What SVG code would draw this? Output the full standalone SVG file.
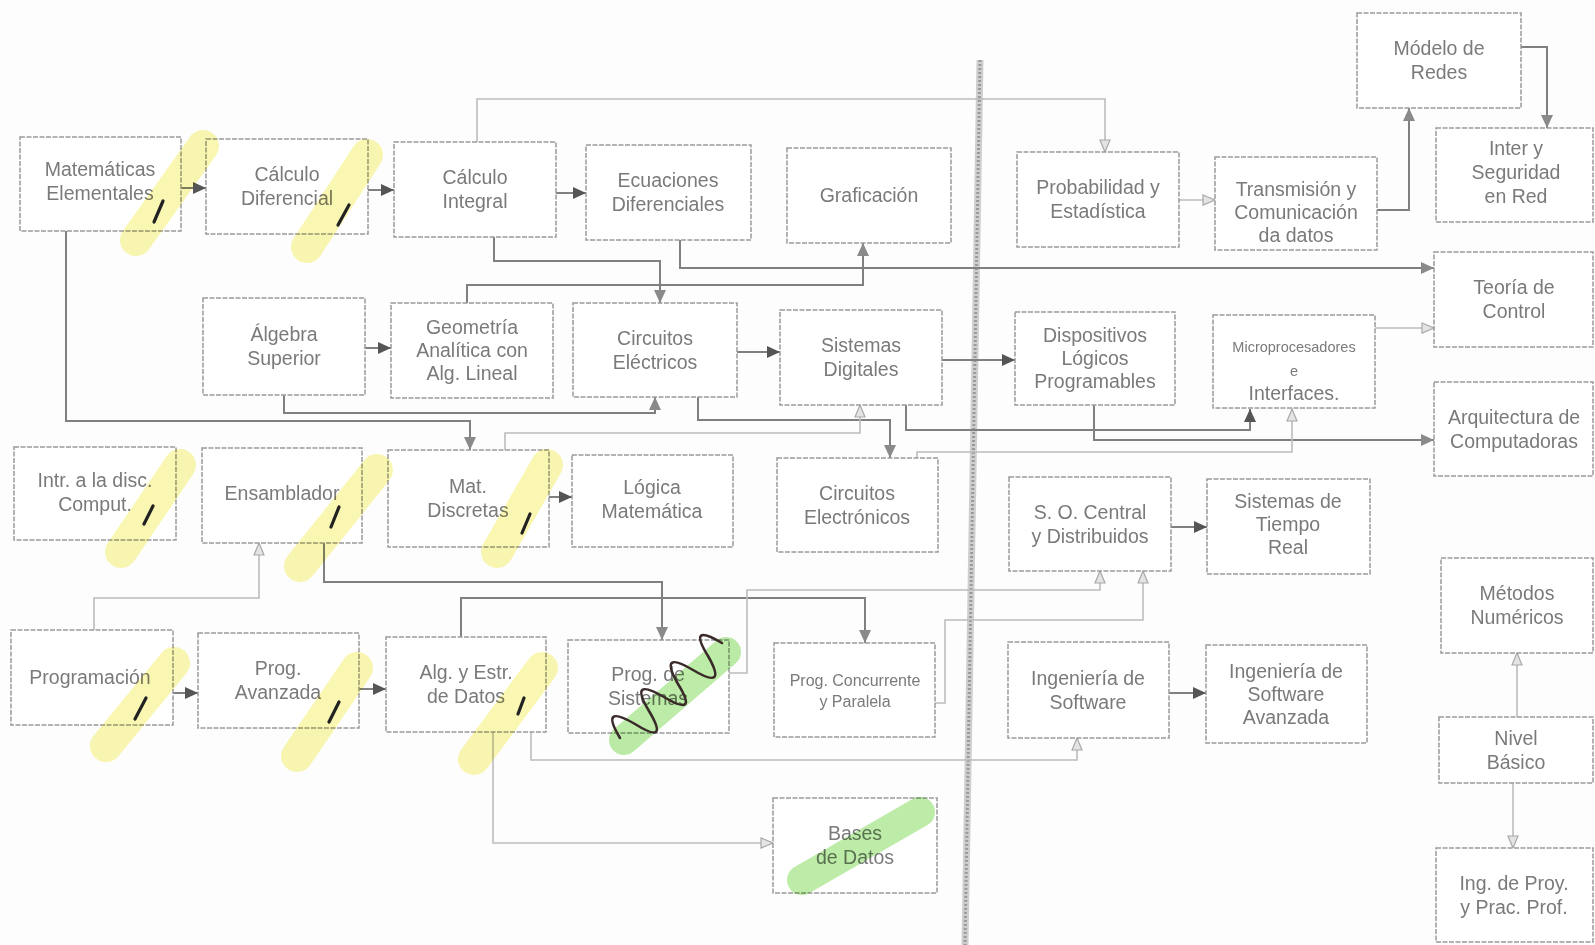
<svg xmlns="http://www.w3.org/2000/svg" width="1595" height="945" viewBox="0 0 1595 945">
<style>
.box{fill:#fff;stroke:#9a9a9a;stroke-width:1.5;stroke-dasharray:5 1.5}
.t{font-family:"Liberation Sans",Arial,sans-serif;font-size:19.5px;fill:#7a7a7a;text-anchor:middle}
.s{font-size:14.5px}
.m{font-size:16px}
.dk{fill:none;stroke:#808080;stroke-width:2}
.lt{fill:none;stroke:#bcbcbc;stroke-width:1.6}
.hy{fill:none;stroke:#f8f38a;stroke-width:32;stroke-linecap:round;opacity:.65;mix-blend-mode:multiply}
.hg{fill:none;stroke:#a6e68a;stroke-width:30;stroke-linecap:round;opacity:.75;mix-blend-mode:multiply}
.pen{fill:none;stroke:#222;stroke-width:3.2;stroke-linecap:round}
</style>
<defs>
<marker id="ad" markerUnits="userSpaceOnUse" markerWidth="14" markerHeight="12" refX="13" refY="6" orient="auto"><path d="M0,0 L13,6 L0,12 z" fill="#555"/></marker>
<marker id="am" markerUnits="userSpaceOnUse" markerWidth="14" markerHeight="12" refX="13" refY="6" orient="auto"><path d="M0,0 L13,6 L0,12 z" fill="#8a8a8a"/></marker>
<marker id="al" markerUnits="userSpaceOnUse" markerWidth="14" markerHeight="12" refX="13" refY="6" orient="auto"><path d="M1,1 L13,6 L1,11 z" fill="#e4e4e4" stroke="#a8a8a8" stroke-width="1.2"/></marker>
</defs>
<rect width="1595" height="945" fill="#fdfdfd"/>

<g id="divider">
<line x1="980" y1="60" x2="965" y2="945" stroke="#cfcfcf" stroke-width="7"/>
<line x1="980" y1="60" x2="965" y2="945" stroke="#9a9a9a" stroke-width="3" stroke-dasharray="2 2"/>
</g>

<g id="connectors">
<path class="dk" d="M181,188 H206" marker-end="url(#ad)"/>
<path class="dk" d="M368,190 H394" marker-end="url(#ad)"/>
<path class="dk" d="M556,193 H586" marker-end="url(#ad)"/>
<path class="dk" d="M365,348 H391" marker-end="url(#ad)"/>
<path class="dk" d="M737,352 H780" marker-end="url(#ad)"/>
<path class="dk" d="M942,360 H1015" marker-end="url(#ad)"/>
<path class="dk" d="M549,497 H572" marker-end="url(#ad)"/>
<path class="dk" d="M173,693 H198" marker-end="url(#ad)"/>
<path class="dk" d="M359,689 H386" marker-end="url(#ad)"/>
<path class="dk" d="M1171,527 H1207" marker-end="url(#ad)"/>
<path class="dk" d="M1169,693 H1206" marker-end="url(#ad)"/>
<path class="dk" d="M1521,47 H1547 V128" marker-end="url(#am)"/>
<path class="dk" d="M1377,210 H1409 V108" marker-end="url(#am)"/>
<path class="dk" d="M66,231 V421 H470 V450" marker-end="url(#am)"/>
<path class="dk" d="M284,395 V413 H655 V397" marker-end="url(#am)"/>
<path class="dk" d="M494,237 V261 H660 V303" marker-end="url(#am)"/>
<path class="dk" d="M467,303 V285 H863 V243" marker-end="url(#am)"/>
<path class="dk" d="M680,240 V268 H1434" marker-end="url(#am)"/>
<path class="dk" d="M906,405 V430 H1250 V409" marker-end="url(#ad)"/>
<path class="dk" d="M324,543 V582 H662 V640" marker-end="url(#am)"/>
<path class="dk" d="M461,637 V598 H865 V643" marker-end="url(#am)"/>
<path class="dk" d="M698,397 V420 H890 V458" marker-end="url(#am)"/>
<path class="dk" d="M1094,405 V440 H1434" marker-end="url(#am)"/>
<path class="lt" d="M477,142 V99 H1105 V152" marker-end="url(#al)"/>
<path class="lt" d="M1179,200 H1215" marker-end="url(#al)"/>
<path class="lt" d="M1375,328 H1434" marker-end="url(#al)"/>
<path class="lt" d="M917,458 V452 H1292 V409" marker-end="url(#al)"/>
<path class="lt" d="M505,450 V433 H860 V405" marker-end="url(#al)"/>
<path class="lt" d="M729,673 H747 V590 H1100 V571" marker-end="url(#al)"/>
<path class="lt" d="M935,703 H945 V620 H1143 V571" marker-end="url(#al)"/>
<path class="lt" d="M531,732 V760 H1077 V738" marker-end="url(#al)"/>
<path class="lt" d="M94,630 V598 H259 V543" marker-end="url(#al)"/>
<path class="lt" d="M493,732 V843 H773" marker-end="url(#al)"/>
<path class="lt" d="M1517,717 V653" marker-end="url(#al)"/>
<path class="lt" d="M1513,783 V848" marker-end="url(#al)"/>
</g>

<g id="n-me"><rect class="box" x="20" y="137" width="161" height="94"/><text class="t" x="100" y="176">Matemáticas<tspan x="100" dy="24">Elementales</tspan></text></g>
<g id="n-cd"><rect class="box" x="206" y="139" width="162" height="95"/><text class="t" x="287" y="181">Cálculo<tspan x="287" dy="24">Diferencial</tspan></text></g>
<g id="n-ci"><rect class="box" x="394" y="142" width="162" height="95"/><text class="t" x="475" y="184">Cálculo<tspan x="475" dy="24">Integral</tspan></text></g>
<g id="n-ed"><rect class="box" x="586" y="145" width="165" height="95"/><text class="t" x="668" y="187">Ecuaciones<tspan x="668" dy="24">Diferenciales</tspan></text></g>
<g id="n-graf"><rect class="box" x="787" y="148" width="164" height="95"/><text class="t" x="869" y="202">Graficación</text></g>
<g id="n-prob"><rect class="box" x="1017" y="152" width="162" height="95"/><text class="t" x="1098" y="194">Probabilidad y<tspan x="1098" dy="24">Estadística</tspan></text></g>
<g id="n-trans"><rect class="box" x="1215" y="157" width="162" height="93"/><text class="t" x="1296" y="196">Transmisión y<tspan x="1296" dy="23">Comunicación</tspan><tspan x="1296" dy="23">da datos</tspan></text></g>
<g id="n-modelo"><rect class="box" x="1357" y="13" width="164" height="95"/><text class="t" x="1439" y="55">Módelo de<tspan x="1439" dy="24">Redes</tspan></text></g>
<g id="n-inter"><rect class="box" x="1436" y="128" width="157" height="94"/><text class="t" x="1516" y="155">Inter y<tspan x="1516" dy="24">Seguridad</tspan><tspan x="1516" dy="24">en Red</tspan></text></g>
<g id="n-teoria"><rect class="box" x="1434" y="252" width="159" height="95"/><text class="t" x="1514" y="294">Teoría de<tspan x="1514" dy="24">Control</tspan></text></g>
<g id="n-arq"><rect class="box" x="1434" y="382" width="159" height="94"/><text class="t" x="1514" y="424">Arquitectura de<tspan x="1514" dy="24">Computadoras</tspan></text></g>
<g id="n-as"><rect class="box" x="203" y="298" width="162" height="97"/><text class="t" x="284" y="341">Álgebra<tspan x="284" dy="24">Superior</tspan></text></g>
<g id="n-geo"><rect class="box" x="391" y="303" width="162" height="95"/><text class="t" x="472" y="334">Geometría<tspan x="472" dy="23">Analítica con</tspan><tspan x="472" dy="23">Alg. Lineal</tspan></text></g>
<g id="n-ce"><rect class="box" x="573" y="303" width="164" height="94"/><text class="t" x="655" y="345">Circuitos<tspan x="655" dy="24">Eléctricos</tspan></text></g>
<g id="n-sd"><rect class="box" x="780" y="310" width="162" height="95"/><text class="t" x="861" y="352">Sistemas<tspan x="861" dy="24">Digitales</tspan></text></g>
<g id="n-dlp"><rect class="box" x="1015" y="312" width="160" height="93"/><text class="t" x="1095" y="342">Dispositivos<tspan x="1095" dy="23">Lógicos</tspan><tspan x="1095" dy="23">Programables</tspan></text></g>
<g id="n-micro"><rect class="box" x="1213" y="315" width="162" height="93"/><text class="t" x="1294" y="352"><tspan class="s">Microprocesadores</tspan><tspan x="1294" dy="24" class="s">e</tspan><tspan x="1294" dy="24">Interfaces.</tspan></text></g>
<g id="n-intr"><rect class="box" x="14" y="447" width="162" height="93"/><text class="t" x="95" y="487">Intr. a la disc.<tspan x="95" dy="24">Comput.</tspan></text></g>
<g id="n-ens"><rect class="box" x="202" y="448" width="160" height="95"/><text class="t" x="282" y="500">Ensamblador</text></g>
<g id="n-md"><rect class="box" x="388" y="450" width="161" height="97"/><text class="t" x="468" y="493">Mat.<tspan x="468" dy="24">Discretas</tspan></text></g>
<g id="n-lm"><rect class="box" x="572" y="455" width="161" height="92"/><text class="t" x="652" y="494">Lógica<tspan x="652" dy="24">Matemática</tspan></text></g>
<g id="n-cel"><rect class="box" x="777" y="458" width="161" height="94"/><text class="t" x="857" y="500">Circuitos<tspan x="857" dy="24">Electrónicos</tspan></text></g>
<g id="n-so"><rect class="box" x="1009" y="477" width="162" height="94"/><text class="t" x="1090" y="519">S. O. Central<tspan x="1090" dy="24">y Distribuidos</tspan></text></g>
<g id="n-str"><rect class="box" x="1207" y="479" width="163" height="95"/><text class="t" x="1288" y="508">Sistemas de<tspan x="1288" dy="23">Tiempo</tspan><tspan x="1288" dy="23">Real</tspan></text></g>
<g id="n-mn"><rect class="box" x="1441" y="558" width="152" height="95"/><text class="t" x="1517" y="600">Métodos<tspan x="1517" dy="24">Numéricos</tspan></text></g>
<g id="n-prog"><rect class="box" x="11" y="630" width="162" height="95"/><text class="t" x="90" y="684">Programación</text></g>
<g id="n-pa"><rect class="box" x="198" y="633" width="161" height="95"/><text class="t" x="278" y="675">Prog.<tspan x="278" dy="24">Avanzada</tspan></text></g>
<g id="n-aed"><rect class="box" x="386" y="637" width="160" height="95"/><text class="t" x="466" y="679">Alg. y Estr.<tspan x="466" dy="24">de Datos</tspan></text></g>
<g id="n-ps"><rect class="box" x="568" y="640" width="161" height="93"/><text class="t" x="648" y="681">Prog. de<tspan x="648" dy="24">Sistemas</tspan></text></g>
<g id="n-pc"><rect class="box" x="774" y="643" width="161" height="94"/><text class="t m" x="855" y="686">Prog. Concurrente<tspan x="855" dy="21">y Paralela</tspan></text></g>
<g id="n-is"><rect class="box" x="1008" y="642" width="161" height="96"/><text class="t" x="1088" y="685">Ingeniería de<tspan x="1088" dy="24">Software</tspan></text></g>
<g id="n-isa"><rect class="box" x="1206" y="645" width="161" height="98"/><text class="t" x="1286" y="678">Ingeniería de<tspan x="1286" dy="23">Software</tspan><tspan x="1286" dy="23">Avanzada</tspan></text></g>
<g id="n-nb"><rect class="box" x="1439" y="717" width="154" height="66"/><text class="t" x="1516" y="745">Nivel<tspan x="1516" dy="24">Básico</tspan></text></g>
<g id="n-bd"><rect class="box" x="773" y="798" width="164" height="95"/><text class="t" x="855" y="840">Bases<tspan x="855" dy="24">de Datos</tspan></text></g>
<g id="n-ip"><rect class="box" x="1436" y="848" width="157" height="94"/><text class="t" x="1514" y="890">Ing. de Proy.<tspan x="1514" dy="24">y Prac. Prof.</tspan></text></g>

<g id="annotations">
<path class="hy" d="M203,146 L136,240"/>
<path class="hy" d="M367,155 L307,247"/>
<path class="hy" d="M180,465 L121,552"/>
<path class="hy" d="M377,470 L300,566"/>
<path class="hy" d="M547,465 L497,552"/>
<path class="hy" d="M174,663 L106,746"/>
<path class="hy" d="M357,668 L297,756"/>
<path class="hy" d="M542,668 L474,759"/>
<path class="hg" d="M726,652 L624,740"/>
<path class="hg" d="M920,812 L802,880" stroke-width="38"/>
<path class="pen" d="M163,201 L154,222"/>
<path class="pen" d="M349,205 L338,225"/>
<path class="pen" d="M153,506 L144,524"/>
<path class="pen" d="M339,507 L331,527"/>
<path class="pen" d="M530,514 L522,533" stroke="#3344cc" stroke-width="2.5"/>
<path class="pen" d="M146,698 L135,719"/>
<path class="pen" d="M339,702 L329,722"/>
<path class="pen" d="M524,698 L518,714"/>
<path d="M620,738 Q599,703 635,724 Q670,746 649,711 Q628,676 664,697 Q699,718 678,684 Q658,649 693,670 Q728,691 708,656 Q687,622 722,643" fill="none" stroke="#3a2a2a" stroke-width="2.6" stroke-linecap="round" stroke-linejoin="round"/>
</g>
</svg>
